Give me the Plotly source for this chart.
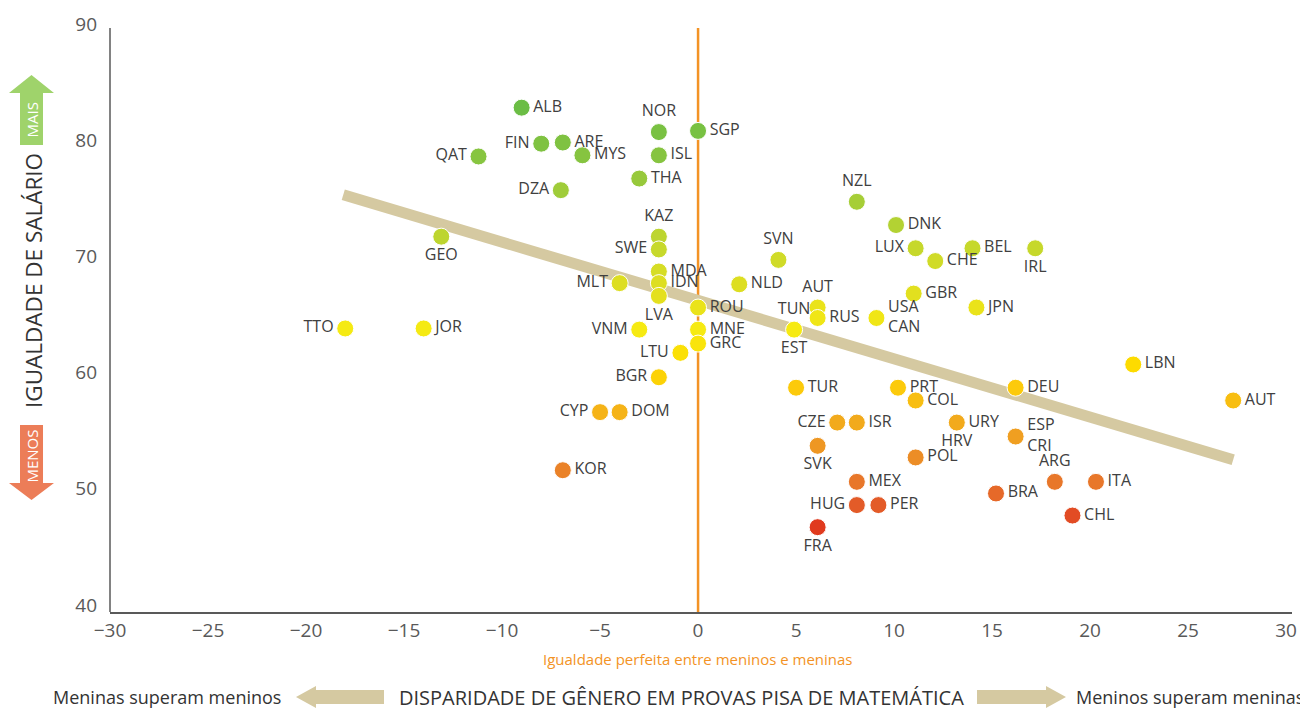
import plotly.graph_objects as go

# ---------------- data ----------------
countries = ["ALB", "NOR", "SGP", "FIN", "ARE", "MYS", "QAT", "ISL", "THA", "DZA",
             "NZL", "DNK", "KAZ", "SWE", "GEO", "LUX", "BEL", "IRL", "CHE", "SVN",
             "MDA", "MLT", "IDN", "NLD", "LVA", "GBR", "ROU", "JPN", "AUT", "RUS",
             "USA", "TUN", "TTO", "JOR", "VNM", "MNE", "GRC", "LTU", "LBN", "BGR",
             "TUR", "PRT", "DEU", "COL", "AUT", "CYP", "DOM", "CZE", "ISR", "URY",
             "ESP", "SVK", "POL", "KOR", "MEX", "ARG", "ITA", "BRA", "HUG", "PER",
             "CHL", "FRA"]
point_labels = ["ALB", "NOR", "SGP", "FIN", "ARE", "MYS", "QAT", "ISL", "THA", "DZA",
                "NZL", "DNK", "KAZ", "SWE", "GEO", "LUX", "BEL", "IRL", "CHE", "SVN",
                "MDA", "MLT", "IDN", "NLD", "LVA", "GBR", "ROU", "JPN", "AUT", "RUS",
                "USA<br>CAN", "TUN", "TTO", "JOR", "VNM", "MNE", "GRC", "LTU", "LBN", "BGR",
                "TUR", "PRT", "DEU", "COL", "AUT", "CYP", "DOM", "CZE", "ISR", "URY",
                "ESP<br>CRI", "SVK", "POL", "KOR", "MEX", "ARG", "ITA", "BRA", "HUG", "PER",
                "CHL", "FRA"]
math_gap = [-9.0, -2.0, 0.0, -8.0, -6.9, -5.9, -11.2, -2.0, -3.0, -7.0,
            8.1, 10.1, -2.0, -2.0, -13.1, 11.1, 14.0, 17.2, 12.1, 4.1,
            -2.0, -4.0, -2.0, 2.1, -2.0, 11.0, 0.0, 14.2, 6.1, 6.1,
            9.1, 4.9, -18.0, -14.0, -3.0, 0.0, 0.0, -0.9, 22.2, -2.0,
            5.0, 10.2, 16.2, 11.1, 27.3, -5.0, -4.0, 7.1, 8.1, 13.2,
            16.2, 6.1, 11.1, -6.9, 8.1, 18.2, 20.3, 15.2, 8.1, 9.2,
            19.1, 6.1]
pay_equality = [82.8, 80.7, 80.8, 79.7, 79.8, 78.7, 78.6, 78.7, 76.7, 75.7,
                74.7, 72.7, 71.7, 70.6, 71.7, 70.7, 70.7, 70.7, 69.6, 69.7,
                68.7, 67.7, 67.7, 67.6, 66.6, 66.8, 65.6, 65.6, 65.6, 64.7,
                64.7, 63.7, 63.8, 63.8, 63.7, 63.7, 62.5, 61.7, 60.7, 59.6,
                58.7, 58.7, 58.7, 57.6, 57.6, 56.6, 56.6, 55.7, 55.7, 55.7,
                54.5, 53.7, 52.7, 51.6, 50.6, 50.6, 50.6, 49.6, 48.6, 48.6,
                47.7, 46.7]
label_pos = ["middle right", "top center", "middle right", "middle left", "middle right",
             "middle right", "middle left", "middle right", "middle right", "middle left",
             "top center", "middle right", "top center", "middle left", "bottom center",
             "middle left", "middle right", "bottom center", "middle right", "top center",
             "middle right", "middle left", "middle right", "middle right", "bottom center",
             "middle right", "middle right", "middle right", "top center", "middle right",
             "middle right", "top center", "middle left", "middle right", "middle left",
             "middle right", "middle right", "middle left", "middle right", "middle left",
             "middle right", "middle right", "middle right", "middle right", "middle right",
             "middle left", "middle right", "middle left", "middle right", "middle right",
             "middle right", "bottom center", "middle right", "middle right", "middle right",
             "top center", "middle right", "middle right", "middle left", "middle right",
             "middle right", "bottom center"]

extra_labels = ["EST", "HRV"]
extra_gap = [4.9, 13.2]
extra_pay = [63.7, 55.7]

trend_x = [-18.1, 27.3]
trend_y = [75.3, 52.5]

x_ticks = [-30, -25, -20, -15, -10, -5, 0, 5, 10, 15, 20, 25, 30]
y_ticks = [40, 50, 60, 70, 80, 90]

# ---------------- styling ----------------
FONT = "Open Sans"
TXT = "#404040"
TAN = "#d5c9a1"
ORANGE = "#f39325"

OFF = 8                      # page body margin
W, H = 1300, 700
L, T = 110 - OFF, 24 - OFF
R = W - (1292 - OFF)
B = H - (612 - OFF)
PW, PH = W - L - R, H - T - B


def px(x):
    return (x - OFF - L) / PW


def py(y):
    return (H - B - (y - OFF)) / PH


colorscale = [
    [0.00, "#e03a1e"], [0.05, "#e35a28"], [0.11, "#e8782a"], [0.19, "#ee9624"],
    [0.25, "#f2aa1c"], [0.33, "#fcc90b"], [0.39, "#fddc00"], [0.47, "#f6ea12"],
    [0.55, "#e4e01e"], [0.64, "#cfdb28"], [0.72, "#b3d233"], [0.80, "#a0cc39"],
    [0.89, "#85c440"], [1.00, "#6bbd45"],
]

fig = go.Figure()

fig.add_trace(go.Scatter(
    x=trend_x, y=trend_y, mode="lines",
    line=dict(color=TAN, width=11), hoverinfo="skip", showlegend=False,
))

fig.add_trace(go.Scatter(
    x=math_gap, y=pay_equality, mode="markers+text",
    text=point_labels, textposition=label_pos,
    textfont=dict(family=FONT, size=16, color=TXT),
    marker=dict(size=17, color=pay_equality, colorscale=colorscale,
                cmin=46.7, cmax=82.8, line=dict(color="white", width=1)),
    customdata=countries, hovertemplate="%{customdata}: %{x}, %{y}<extra></extra>",
    showlegend=False,
))

fig.add_trace(go.Scatter(
    x=extra_gap, y=extra_pay, mode="markers+text", text=extra_labels,
    textposition="bottom center",
    marker=dict(size=17, opacity=0),
    textfont=dict(family=FONT, size=16, color=TXT),
    hoverinfo="skip", showlegend=False,
))

shapes = [
    # vertical line of perfect equality
    dict(type="line", xref="x", yref="paper", x0=0, x1=0, y0=0, y1=py(28),
         line=dict(color=ORANGE, width=2.5), layer="below"),
    # y axis line
    dict(type="line", xref="paper", yref="paper", x0=0, x1=0, y0=0, y1=py(28),
         line=dict(color="#595959", width=1.5)),
]


def poly(points, color):
    d = "M " + " L ".join(f"{px(a):.5f},{py(b):.5f}" for a, b in points) + " Z"
    return dict(type="path", xref="paper", yref="paper", path=d,
                fillcolor=color, line=dict(width=0))


# MAIS arrow (up)
shapes.append(poly([(20, 145), (20, 93), (9, 93), (31.5, 75), (54, 93), (43, 93), (43, 145)], "#9fd36b"))
# MENOS arrow (down)
shapes.append(poly([(20, 425), (20, 483), (9, 483), (31.5, 500), (54, 483), (43, 483), (43, 425)], "#ec7d58"))
# bottom left arrow
shapes.append(poly([(384, 690), (316, 690), (316, 686), (296, 697), (316, 708), (316, 704), (384, 704)], TAN))
# bottom right arrow
shapes.append(poly([(977, 690), (1046, 690), (1046, 686), (1066, 697), (1046, 708), (1046, 704), (977, 704)], TAN))


def ann(text, x, y, size, color=TXT, angle=0, xanchor="center", yanchor="middle"):
    return dict(text=text, xref="paper", yref="paper", x=px(x), y=py(y),
                showarrow=False, textangle=angle, xanchor=xanchor, yanchor=yanchor,
                font=dict(family=FONT, size=size, color=color))


annotations = [
    ann("IGUALDADE DE SALÁRIO", 33, 281, 22.5, color="#333333", angle=-90),
    ann("MAIS", 31.5, 120, 15, color="white", angle=-90),
    ann("MENOS", 31.5, 456, 15, color="white", angle=-90),
    ann("Igualdade perfeita entre meninos e meninas", 698, 659, 15, color=ORANGE),
    ann("Meninas superam meninos", 283, 697, 18, color="#333333", xanchor="right"),
    ann("DISPARIDADE DE GÊNERO EM PROVAS PISA DE MATEMÁTICA", 681, 697, 20, color="#333333"),
    ann("Meninos superam meninas", 1306, 697, 18, color="#333333", xanchor="right"),
]

fig.update_layout(
    width=W, height=H,
    margin=dict(l=L, r=R, t=T, b=B, autoexpand=False),
    paper_bgcolor="white", plot_bgcolor="white",
    font=dict(family=FONT, color=TXT),
    shapes=shapes, annotations=annotations,
    xaxis=dict(range=[-30, 30.3], tickvals=x_ticks, showgrid=False, zeroline=False,
               showline=True, linecolor="#595959", linewidth=1.5, ticks="",
               automargin=False,
               tickfont=dict(family=FONT, size=19, color="#595959"), fixedrange=True),
    yaxis=dict(range=[39.4, 90], tickvals=y_ticks, showgrid=False, zeroline=False,
               showline=False, ticks="", ticklabelstandoff=12, automargin=False,
               tickfont=dict(family=FONT, size=19, color="#595959"), fixedrange=True),
)

fig.write_html("out.html")
